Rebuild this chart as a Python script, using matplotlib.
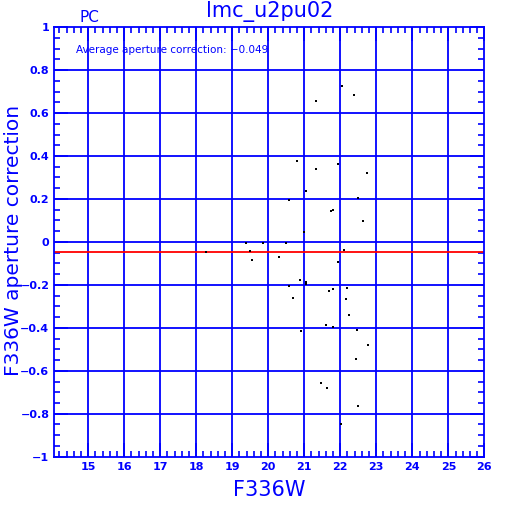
import numpy as np
import matplotlib.pyplot as plt
from matplotlib.ticker import MultipleLocator

# magnitudes F336W e correção de abertura
mag = [22.04, 22.37, 21.32, 20.79, 21.34, 21.93, 22.73, 21.04, 20.57, 22.50,
       21.73, 21.80, 22.62, 20.98, 19.38, 19.85, 20.49, 18.27, 19.49, 22.09,
       19.54, 20.29, 21.93, 20.89, 21.04, 21.04, 20.57, 21.80, 21.68, 22.20,
       20.68, 22.15, 22.25, 21.59, 21.80, 20.91, 22.46, 22.76, 22.43, 21.46,
       21.62, 22.48, 22.02]
corr = [0.728, 0.684, 0.657, 0.375, 0.341, 0.364, 0.322, 0.239, 0.197, 0.203,
        0.142, 0.147, 0.096, 0.048, -0.003, -0.003, -0.006, -0.045, -0.040, -0.036,
        -0.084, -0.068, -0.092, -0.177, -0.186, -0.194, -0.203, -0.217, -0.228, -0.216,
        -0.259, -0.264, -0.338, -0.385, -0.394, -0.413, -0.410, -0.482, -0.543, -0.655,
        -0.678, -0.766, -0.850]
media = -0.049

azul = '#0000ff'

fig = plt.figure(figsize=(5.12, 5.12), dpi=100)
ax = fig.add_axes([0.106, 0.108, 0.840, 0.839])

ax.set_xlim(14.06, 26)
ax.set_ylim(-1, 1)

# grade azul
for xv in range(15, 26):
    ax.axvline(xv, color=azul, lw=1.3, zorder=1)
for yv in np.arange(-0.8, 0.81, 0.2):
    ax.axhline(yv, color=azul, lw=1.3, zorder=1)

ax.axhline(media, color='red', lw=1.3, zorder=2)
ax.plot(mag, corr, 's', color='black', ms=2, mew=0, zorder=3)

ax.xaxis.set_major_locator(MultipleLocator(1))
ax.xaxis.set_minor_locator(MultipleLocator(0.2))
ax.yaxis.set_major_locator(MultipleLocator(0.2))
ax.yaxis.set_minor_locator(MultipleLocator(0.05))
ax.tick_params(which='both', direction='in', top=True, right=True, colors=azul,
               labelsize=8, width=1.2)
ax.tick_params(which='major', length=10)
ax.tick_params(which='minor', length=4)

ax.set_xticks(range(15, 27))
ax.set_xticklabels([str(v) for v in range(15, 27)], fontweight='bold')
yt = np.round(np.arange(-1, 1.01, 0.2), 1)
ax.set_yticks(yt)
ax.set_yticklabels([('%g' % v).replace('-', '\u2212') if abs(v) > 1e-9 else '0' for v in yt],
                   fontweight='bold')

for s in ax.spines.values():
    s.set_color(azul)
    s.set_linewidth(1.3)

ax.set_xlabel('F336W', color=azul, fontsize=15, labelpad=6)
fig.text(0.026, 0.53, 'F336W aperture correction', color=azul, fontsize=14.5,
         rotation=90, ha='center', va='center')
ax.set_title('lmc_u2pu02', color=azul, fontsize=15, pad=7)
fig.text(0.174, 0.958, 'PC', color=azul, fontsize=11, ha='center')
ax.text(0.05, 0.958, 'Average aperture correction: \u2212%.3f' % abs(media), color=azul,
        fontsize=7.5, transform=ax.transAxes, va='top')

fig.savefig('out.png', dpi=100)
